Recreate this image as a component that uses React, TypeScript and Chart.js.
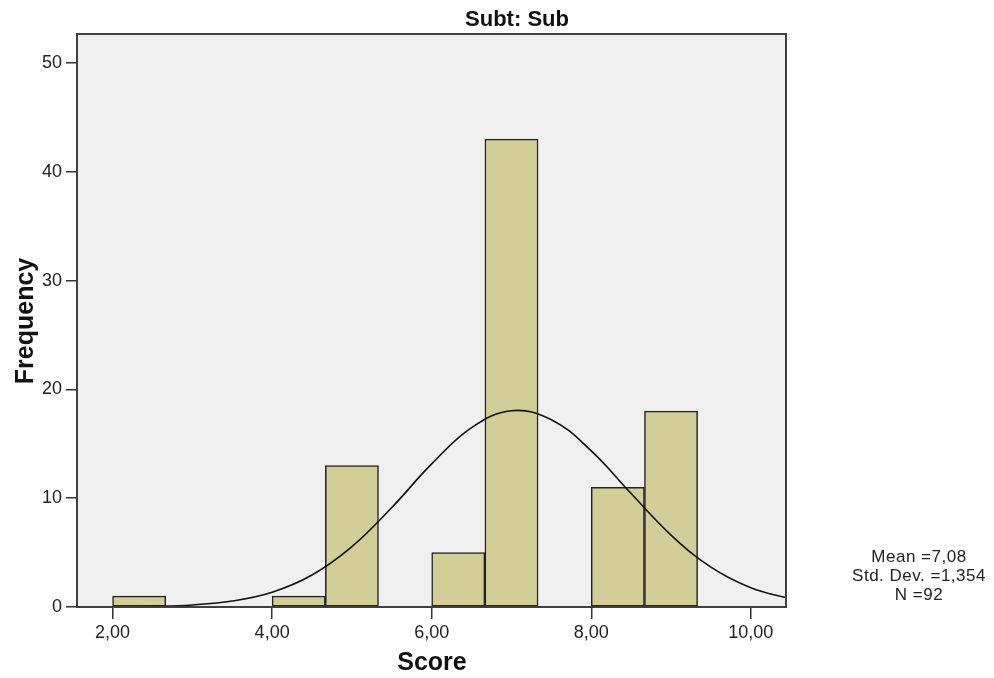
import React, { useEffect, useRef } from "react";
import { Chart, registerables } from "chart.js";
Chart.register(...registerables);

// Histogram bins (centres) and frequencies
const binCenters = [2.333, 3.0, 3.667, 4.333, 5.0, 5.667, 6.333, 7.0, 7.667, 8.333, 9.0];
const frequencies = [1, null, null, 1, 13, null, 5, 43, null, 11, 18];

// Normal curve
const curveX = [1.5, 2, 2.5, 3, 3.5, 4, 4.5, 5, 5.5, 6, 6.5, 7, 7.5, 8, 8.5, 9, 9.5, 10, 10.5];
const curveY = [0.004, 0.016, 0.059, 0.19, 0.55, 1.36, 2.94, 5.55, 9.15, 13.15, 16.49, 18.04, 17.22, 14.35, 10.43, 6.61, 3.66, 1.77, 0.74];

const xTickValues = [2, 4, 6, 8, 10];
const yTickValues = [0, 10, 20, 30, 40, 50];

const chartTitle = "Subt: Sub";
const xTitle = "Score";
const yTitle = "Frequency";
const statsLines = ["Mean =7,08", "Std. Dev. =1,354", "N =92"];

const FONT = "'Liberation Sans', Arial, sans-serif";

export default function App() {
  const ref = useRef<HTMLCanvasElement>(null);

  useEffect(() => {
    document.body.style.margin = "0";
    const canvas = ref.current;
    if (!canvas) return;

    const decor = {
      id: "decor",
      beforeDraw(chart: any) {
        const { ctx, chartArea: a } = chart;
        ctx.save();
        ctx.fillStyle = "#f0f0f0";
        ctx.fillRect(a.left, a.top, a.right - a.left, a.bottom - a.top);
        ctx.restore();
      },
      afterDatasetsDraw(chart: any) {
        const { ctx, chartArea: a } = chart;
        ctx.save();
        ctx.strokeStyle = "#404040";
        ctx.lineWidth = 2;
        ctx.strokeRect(a.left, a.top, a.right - a.left, a.bottom - a.top);
        ctx.restore();
      },
      afterDraw(chart: any) {
        const { ctx } = chart;
        ctx.save();
        ctx.fillStyle = "#111";
        ctx.textAlign = "center";
        ctx.textBaseline = "middle";
        ctx.font = `bold 22px ${FONT}`;
        ctx.fillText(chartTitle, 517, 20);
        ctx.font = `bold 25px ${FONT}`;
        ctx.fillText(xTitle, 432, 663);
        ctx.save();
        ctx.translate(26, 321);
        ctx.rotate(-Math.PI / 2);
        ctx.fillText(yTitle, 0, 0);
        ctx.restore();
        ctx.fillStyle = "#222";
        ctx.font = `17px ${FONT}`;
        try {
          (ctx as any).letterSpacing = "0.5px";
        } catch (e) {}
        statsLines.forEach((t, i) => ctx.fillText(t, 919, 557 + i * 19));
        ctx.restore();
      },
    };

    const chart = new Chart(canvas, {
      type: "bar",
      data: {
        datasets: [
          {
            type: "line",
            data: curveX.map((x, i) => ({ x, y: curveY[i] })),
            borderColor: "#111",
            borderWidth: 1.6,
            pointRadius: 0,
            tension: 0.4,
            fill: false,
            order: 0,
          } as any,
          {
            type: "bar",
            data: binCenters.map((x, i) => ({ x, y: frequencies[i] })),
            backgroundColor: "#d3ce97",
            borderColor: "#222",
            borderWidth: 1.5,
            borderSkipped: false,
            categoryPercentage: 1,
            barPercentage: 1,
            order: 1,
          } as any,
        ],
      },
      options: {
        responsive: false,
        animation: false,
        layout: { padding: { left: 0, top: 34, right: 208, bottom: 0 } },
        plugins: { legend: { display: false }, tooltip: { enabled: false }, title: { display: false } },
        scales: {
          x: {
            type: "linear",
            min: 1.554,
            max: 10.441,
            offset: false,
            afterBuildTicks: (s: any) => {
              s.ticks = xTickValues.map((v) => ({ value: v }));
            },
            afterFit: (s: any) => {
              s.height = 71;
            },
            ticks: {
              callback: (v: any) => Number(v).toFixed(2).replace(".", ","),
              color: "#222",
              font: { family: FONT, size: 18 },
              padding: 3,
              maxRotation: 0,
              autoSkip: false,
            },
            grid: { offset: false, drawOnChartArea: false, drawTicks: true, tickLength: 12, color: "#333", lineWidth: 1.5 },
            border: { display: false },
          },
          y: {
            type: "linear",
            min: 0,
            max: 52.67,
            afterBuildTicks: (s: any) => {
              s.ticks = yTickValues.map((v) => ({ value: v }));
            },
            afterFit: (s: any) => {
              s.width = 77;
            },
            ticks: {
              color: "#222",
              font: { family: FONT, size: 18 },
              padding: 4,
              autoSkip: false,
            },
            grid: { drawOnChartArea: false, drawTicks: true, tickLength: 11, color: "#333", lineWidth: 1.5 },
            border: { display: false },
          },
        },
      },
      plugins: [decor],
    });

    return () => chart.destroy();
  }, []);

  return <canvas ref={ref} width={994} height={678} style={{ display: "block" }} />;
}
